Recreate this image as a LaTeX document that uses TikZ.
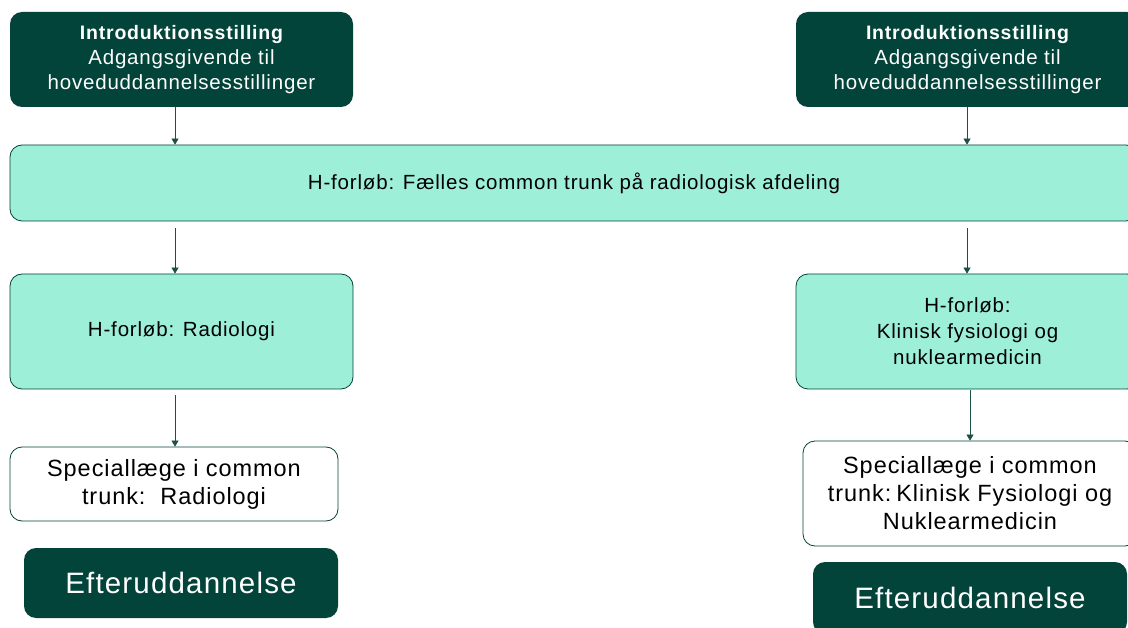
\documentclass[tikz,border=0pt]{standalone}
\usepackage{fontspec}
\setmainfont{Liberation Sans}[LetterSpace=4]
\usetikzlibrary{arrows.meta}
\definecolor{dkgreen}{HTML}{02433A}
\definecolor{mint}{HTML}{9DEFD8}
\newcommand{\introtitle}{{\fontsize{19.5}{25}\selectfont\bfseries Introduktionsstilling}}
\begin{document}
\begin{tikzpicture}[x=1pt,y=-1pt,
  box/.style={rounded corners=12pt, inner sep=0pt, align=center, font=\fontsize{20.5}{25}\selectfont},
  darkbox/.style={box, fill=dkgreen, text=white},
  mintbox/.style={box, fill=mint, draw=dkgreen, line width=0.8pt},
  whitebox/.style={box, fill=white, draw=dkgreen, line width=0.8pt, font=\fontsize{23.5}{28}\selectfont},
  bigbox/.style={darkbox, font=\fontsize{29.5}{32}\selectfont},
  conn/.style={draw=dkgreen!80!gray, line width=0.7pt, -{Triangle[width=7pt,length=6pt]}}]
\useasboundingbox (0,0) rectangle (1128,628);
\clip (0,0) rectangle (1128,628);
\fill[white] (0,0) rectangle (1128,628);
% top boxes
\node[darkbox, minimum width=343, minimum height=95] (il) at (181.5,59.5)
  {\introtitle\\Adgangsgivende til\\hoveduddannelsesstillinger};
\node[darkbox, minimum width=343, minimum height=95] (ir) at (967.5,59.5)
  {\introtitle\\Adgangsgivende til\\hoveduddannelsesstillinger};
% trunk
\node[mintbox, minimum width=1128, minimum height=76] (ct) at (574,183)
  {H-forløb: Fælles common trunk på radiologisk afdeling};
% second row
\node[mintbox, minimum width=343, minimum height=115] (hl) at (181.5,331.5)
  {H-forløb: Radiologi};
\node[mintbox, minimum width=343, minimum height=115] (hr) at (967.5,331.5)
  {H-forløb:\\[1pt]Klinisk fysiologi og\\[1pt]nuklearmedicin};
% speciallæge
\node[whitebox, minimum width=328, minimum height=74] (sl) at (174,484)
  {Speciallæge i common\\trunk:\ \ Radiologi};
\node[whitebox, minimum width=334, minimum height=105] (sr) at (970,493.5)
  {Speciallæge i common\\trunk:\hspace{5pt}Klinisk Fysiologi og\\Nuklearmedicin};
% efteruddannelse
\node[bigbox, minimum width=314, minimum height=70] (el) at (181,583)
  {Efteruddannelse};
\node[bigbox, minimum width=314, minimum height=72] (er) at (970,598)
  {Efteruddannelse};
% connectors
\draw[conn] ([xshift=-6.5pt]il.south) -- (ct.north -| {175,0});
\draw[conn] ([xshift=-0.5pt]ir.south) -- (ct.north -| {967,0});
\draw[conn] (ct.south -| {175,0}) ++(0,7) -- ([xshift=-6.5pt]hl.north);
\draw[conn] (ct.south -| {967,0}) ++(0,7) -- ([xshift=-0.5pt]hr.north);
\draw[conn] ([xshift=-6.5pt,yshift=-6pt]hl.south) -- ([xshift=1pt]sl.north);
\draw[conn] ([xshift=2.5pt,yshift=-1pt]hr.south) -- (sr.north);
\end{tikzpicture}
\end{document}
